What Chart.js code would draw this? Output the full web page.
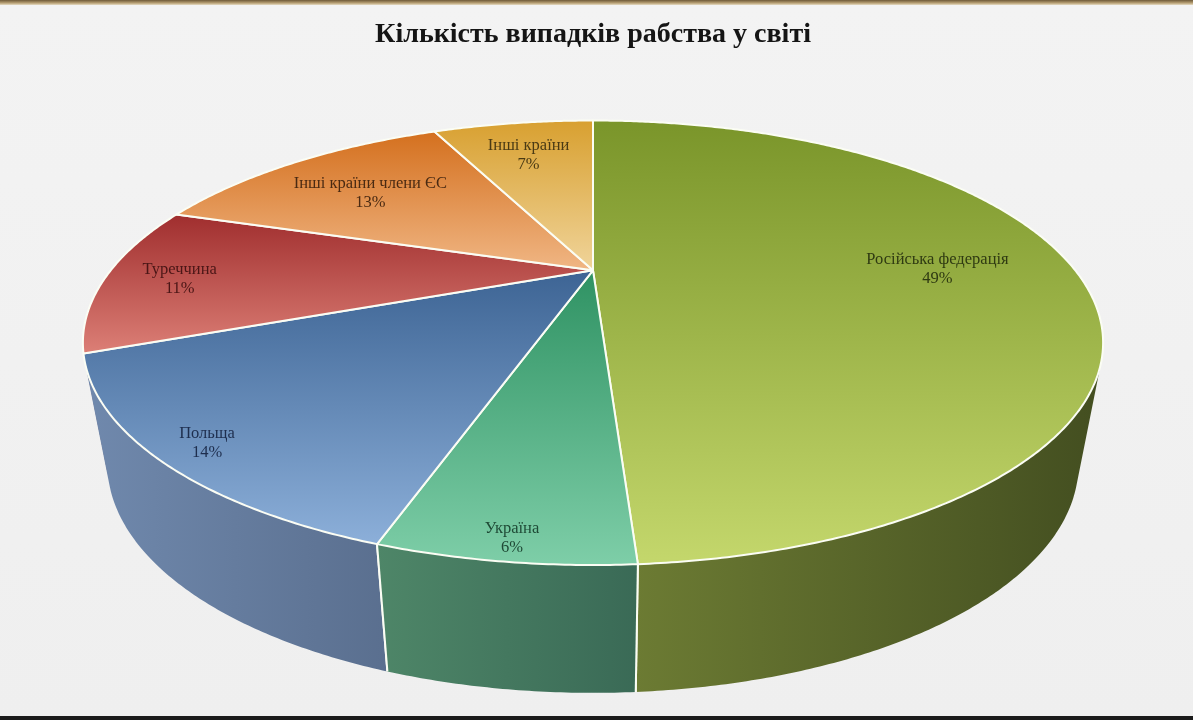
<!DOCTYPE html>
<html lang="uk">
<head>
<meta charset="utf-8">
<script src="https://cdn.jsdelivr.net/npm/chart.js@4"></script>
<style>
  body { margin: 0; background: #f0f0f0; }
  #wrap { position: relative; width: 1193px; height: 720px; overflow: hidden;
          background: linear-gradient(#f3f3f3, #efefef); }
  #topStrip { position: absolute; left: 0; top: 0; width: 100%; height: 5px;
              background: linear-gradient(#6e5a38, #b8a074 60%, #e6dcc4); }
  #bottomStrip { position: absolute; left: 0; bottom: 0; width: 100%; height: 4px; background: #1b1b1b; }
  canvas { position: absolute; left: 0; top: 0; }
</style>
</head>
<body>
<div id="wrap">
  <canvas id="graficoPastel" width="1193" height="720"></canvas>
  <div id="topStrip"></div>
  <div id="bottomStrip"></div>
</div>
<script>
/* ── DATOS ── */
var categorias = ['Російська федерація', 'Україна', 'Польща', 'Туреччина', 'Інші країни члени ЄС', 'Інші країни'];
var valores = [49, 6, 14, 11, 13, 7];
var etiquetasPct = ['49%', '6%', '14%', '11%', '13%', '7%'];

/* ── ESTILO ── */
/* color de la cara superior: [arriba (oscuro), abajo (claro)] */
var coloresCara = [
    ['#7a952a', '#c4d76c'],
    ['#2f9263', '#7ecea8'],
    ['#3d6494', '#8cafd9'],
    ['#a02e2e', '#dc7f76'],
    ['#d4701e', '#f0b684'],
    ['#d8a030', '#f0d49a']
];
/* color de la pared lateral: [izquierda, derecha] */
var coloresLado = [
    ['#6c7b33', '#434e20'],
    ['#4e8668', '#3a6a56'],
    ['#7089ad', '#5a6f8f'],
    ['#8a3030', '#6a2020'],
    ['#b86020', '#904818'],
    ['#c09030', '#a07820']
];
var coloresTexto = ['#2f3a12', '#1f4a36', '#1e2e4e', '#4a1616', '#4a2a12', '#4a3a14'];
/* distancia radial de cada etiqueta (fracción del radio) */
var radioEtiqueta = [0.72, 0.935, 0.915, 0.85, 0.71, 0.76];

/* ── PROYECCIÓN EN PERSPECTIVA ──
 Parámetros relativos al radio que calcula Chart.js */
var KX = 2.333, KY = 0.961, PERSP = 0.326;
var GROSOR = 0.57, GROSOR_V = 0.085, ENCOGE = 0.048;

var pastel3d = {
    id: 'pastel3d',
    beforeDatasetsDraw: function (chart) {
        var ctx = chart.ctx;
        var arcos = chart.getDatasetMeta(0).data;
        var cx = arcos[0].x, cy = arcos[0].y, R = arcos[0].outerRadius;

        /* punto del disco (ángulo, fracción de radio, z: 0 arriba / 1 abajo) */
        function punto(a, r, z) {
            var u = r * Math.cos(a), v = r * Math.sin(a);
            var w = 1 / (1 - PERSP * v);
            return {
                x: cx + KX * R * u * w * (1 - ENCOGE * z),
                y: cy + KY * R * v * w + z * GROSOR * R * (1 + GROSOR_V * v)
            };
        }
        function angulos(a0, a1) {
            var lista = [], n = Math.max(2, Math.ceil((a1 - a0) / 0.008));
            for (var k = 0; k <= n; k++) lista.push(a0 + (a1 - a0) * k / n);
            return lista;
        }

        /* paredes laterales (mitad delantera), de atrás hacia delante */
        var paredes = [];
        arcos.forEach(function (arc, i) {
            var lo = Math.max(arc.startAngle, 0);
            var hi = Math.min(arc.endAngle, Math.PI);
            if (lo < hi) paredes.push({ i: i, lo: lo, hi: hi, arc: arc });
        });
        paredes.sort(function (p, q) {
            return Math.sin((p.lo + p.hi) / 2) - Math.sin((q.lo + q.hi) / 2);
        });
        paredes.forEach(function (p) {
            var as = angulos(p.lo, p.hi);
            var arriba = as.map(function (a) { return punto(a, 1, 0); });
            var abajo = as.map(function (a) { return punto(a, 1, 1); });
            var xs = arriba.concat(abajo).map(function (q) { return q.x; });
            var g = ctx.createLinearGradient(Math.min.apply(null, xs), 0, Math.max.apply(null, xs), 0);
            g.addColorStop(0, coloresLado[p.i][0]);
            g.addColorStop(1, coloresLado[p.i][1]);
            /* un cuadrilátero por tramo, todos con la misma orientación */
            ctx.beginPath();
            for (var k = 0; k < as.length - 1; k++) {
                var q = [arriba[k], arriba[k + 1], abajo[k + 1], abajo[k]];
                var area = 0;
                for (var m = 0; m < 4; m++) {
                    var s = q[m], t = q[(m + 1) % 4];
                    area += s.x * t.y - t.x * s.y;
                }
                if (area < 0) q.reverse();
                ctx.moveTo(q[0].x, q[0].y);
                ctx.lineTo(q[1].x, q[1].y);
                ctx.lineTo(q[2].x, q[2].y);
                ctx.lineTo(q[3].x, q[3].y);
                ctx.closePath();
            }
            ctx.fillStyle = g;
            ctx.fill('nonzero');
            /* líneas blancas en los límites entre porciones */
            ctx.strokeStyle = '#fbfdf4';
            ctx.lineWidth = 2;
            [[p.lo, p.arc.startAngle], [p.hi, p.arc.endAngle]].forEach(function (e) {
                if (Math.abs(e[0] - e[1]) < 1e-6 && Math.sin(e[0]) > 0.4) {
                    var t = punto(e[0], 1, 0), b = punto(e[0], 1, 1);
                    ctx.beginPath(); ctx.moveTo(t.x, t.y); ctx.lineTo(b.x, b.y); ctx.stroke();
                }
            });
        });

        /* caras superiores */
        arcos.forEach(function (arc, i) {
            var c = punto(0, 0, 0);
            var pts = [c].concat(angulos(arc.startAngle, arc.endAngle).map(function (a) { return punto(a, 1, 0); }));
            var ys = pts.map(function (q) { return q.y; });
            var g = ctx.createLinearGradient(0, Math.min.apply(null, ys), 0, Math.max.apply(null, ys));
            g.addColorStop(0, coloresCara[i][0]);
            g.addColorStop(1, coloresCara[i][1]);
            ctx.beginPath();
            pts.forEach(function (q, k) { k ? ctx.lineTo(q.x, q.y) : ctx.moveTo(q.x, q.y); });
            ctx.closePath();
            ctx.fillStyle = g;
            ctx.fill();
            ctx.strokeStyle = '#fbfdf4';
            ctx.lineWidth = 2;
            ctx.lineJoin = 'round';
            ctx.stroke();
        });

        /* etiquetas */
        ctx.textAlign = 'center';
        ctx.textBaseline = 'middle';
        ctx.font = '16.5px "Liberation Serif", "DejaVu Serif", serif';
        arcos.forEach(function (arc, i) {
            var p = punto((arc.startAngle + arc.endAngle) / 2, radioEtiqueta[i], 0);
            ctx.fillStyle = coloresTexto[i];
            ctx.fillText(categorias[i], p.x, p.y - 6);
            ctx.fillText(etiquetasPct[i], p.x, p.y + 13);
        });
        return false; /* no dibujar el pastel plano de Chart.js */
    }
};

function crearGraficoPastel() {
    var canvas = document.getElementById('graficoPastel');
    new Chart(canvas, {
        type: 'pie',
        data: {
            labels: categorias,
            datasets: [{
                data: valores,
                backgroundColor: coloresCara.map(function (c) { return c[1]; }),
                borderWidth: 0
            }]
        },
        options: {
            responsive: false,
            animation: false,
            layout: { padding: { left: 0, right: 7, top: 0, bottom: 243 } },
            plugins: {
                legend: { display: false },
                tooltip: { enabled: false },
                title: {
                    display: true,
                    text: 'Кількість випадків рабства у світі',
                    color: '#151515',
                    font: { family: '"Liberation Serif", "DejaVu Serif", serif', size: 28, weight: 'bold' },
                    padding: { top: 18, bottom: 12 }
                }
            }
        },
        plugins: [pastel3d]
    });
}

crearGraficoPastel();
</script>
</body>
</html>
